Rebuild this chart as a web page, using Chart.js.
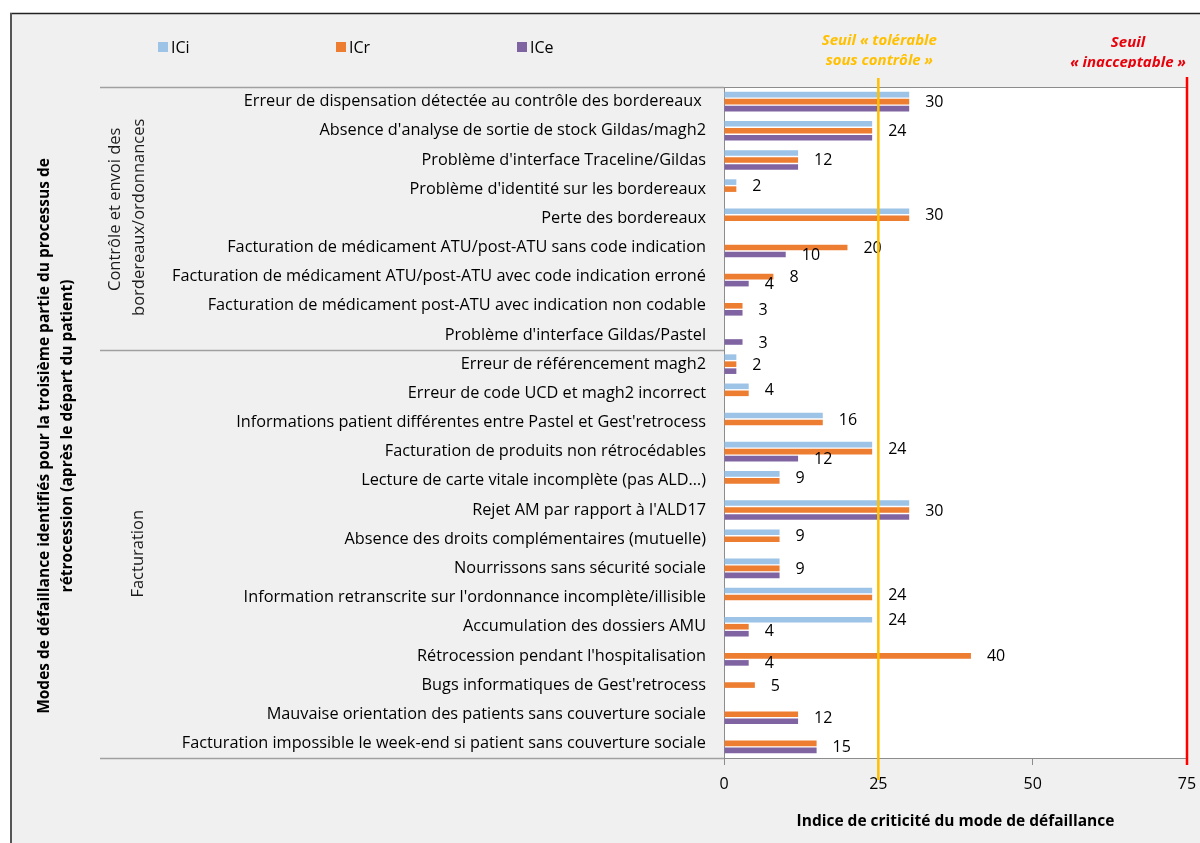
<!DOCTYPE html>
<html>
<head>
<meta charset="utf-8">
<script src="https://cdn.jsdelivr.net/npm/chart.js@4.4.1/dist/chart.umd.min.js"></script>
<style>
  html, body { margin: 0; padding: 0; background: #fff; }
  #wrap { width: 1200px; height: 843px; }
</style>
</head>
<body>
<div id="wrap"><canvas id="chart" width="1200" height="843"></canvas></div>
<script>
// Failure modes (top to bottom)
const categories = [
    "Erreur de dispensation détectée au contrôle des bordereaux ",
    "Absence d'analyse de sortie de stock Gildas/magh2",
    "Problème d'interface Traceline/Gildas",
    "Problème d'identité sur les bordereaux",
    "Perte des bordereaux",
    "Facturation de médicament ATU/post-ATU sans code indication",
    "Facturation de médicament ATU/post-ATU avec code indication erroné",
    "Facturation de médicament post-ATU avec indication non codable",
    "Problème d'interface Gildas/Pastel",
    "Erreur de référencement magh2",
    "Erreur de code UCD et magh2 incorrect",
    "Informations patient différentes entre Pastel et Gest'retrocess",
    "Facturation de produits non rétrocédables",
    "Lecture de carte vitale incomplète (pas ALD…)",
    "Rejet AM par rapport à l'ALD17",
    "Absence des droits complémentaires (mutuelle)",
    "Nourrissons sans sécurité sociale",
    "Information retranscrite sur l'ordonnance incomplète/illisible",
    "Accumulation des dossiers AMU",
    "Rétrocession pendant l'hospitalisation",
    "Bugs informatiques de Gest'retrocess",
    "Mauvaise orientation des patients sans couverture sociale",
    "Facturation impossible le week-end si patient sans couverture sociale"
];

// Category groups: label lines and number of rows in each
const groupLabels = [["Contrôle et envoi des", "bordereaux/ordonnances"], ["Facturation"]];
const groupSizes = [9, 14];

const iciValues = [30, 24, 12, 2, 30, null, null, null, null, 2, 4, 16, 24, 9, 30, 9, 9, 24, 24, null, null, null, null];
const icrValues = [30, 24, 12, 2, 30, 20, 8, 3, null, 2, 4, 16, 24, 9, 30, 9, 9, 24, 4, 40, 5, 12, 15];
const iceValues = [30, 24, 12, null, null, 10, 4, 3, 3, 2, null, null, 12, null, 30, null, 9, null, 4, 4, null, 12, 15];

const xTicks = [0, 25, 50, 75];
const thresholdValues = [25, 75];

const FONT = "'Open Sans', sans-serif";
const AXIS_GRAY = '#8c8c8c';

// Backgrounds, frame, legend and group separators
const framePlugin = {
    id: 'frame',
    beforeDraw(chart) {
        const { ctx, chartArea: a } = chart;
        ctx.save();
        ctx.fillStyle = '#ffffff';
        ctx.fillRect(0, 0, chart.width, chart.height);
        ctx.fillStyle = '#f0f0f0';
        ctx.fillRect(10, 13, chart.width - 10, chart.height - 13);
        ctx.strokeStyle = '#222';
        ctx.lineWidth = 1.5;
        ctx.beginPath();
        ctx.moveTo(10, 13.5); ctx.lineTo(chart.width, 13.5);
        ctx.stroke();
        ctx.strokeStyle = '#555';
        ctx.lineWidth = 2;
        ctx.beginPath();
        ctx.moveTo(11, 13); ctx.lineTo(11, chart.height);
        ctx.stroke();

        // white plot area
        ctx.fillStyle = '#ffffff';
        ctx.fillRect(a.left, a.top, a.right - a.left, a.bottom - a.top);
        ctx.strokeStyle = AXIS_GRAY;
        ctx.lineWidth = 1;
        ctx.strokeRect(a.left + 0.5, a.top + 0.5, a.right - a.left, a.bottom - a.top);

        // group separator lines on the category side
        const y = chart.scales.y;
        const groupX = 100;
        let idx = 0;
        const bounds = [a.top];
        groupSizes.forEach(n => {
            idx += n;
            if (idx < categories.length) {
                bounds.push((y.getPixelForValue(idx - 1) + y.getPixelForValue(idx)) / 2);
            }
        });
        bounds.push(a.bottom);
        ctx.strokeStyle = '#a0a0a0';
        ctx.lineWidth = 1.5;
        bounds.forEach(b => {
            ctx.beginPath();
            ctx.moveTo(groupX, Math.round(b) + 0.5);
            ctx.lineTo(a.left, Math.round(b) + 0.5);
            ctx.stroke();
        });

        // group labels (rotated)
        ctx.fillStyle = '#1a1a1a';
        ctx.font = '16.5px ' + FONT;
        ctx.textAlign = 'center';
        ctx.textBaseline = 'middle';
        groupLabels.forEach((lines, gi) => {
            const cy = (bounds[gi] + bounds[gi + 1]) / 2;
            const xs = lines.length === 2 ? [115, 139] : [138];
            const dy = lines.length === 2 ? [-9, -1] : [0];
            lines.forEach((line, li) => {
                ctx.save();
                ctx.translate(xs[li], cy + dy[li]);
                ctx.rotate(-Math.PI / 2);
                ctx.fillText(line, 0, 0);
                ctx.restore();
            });
        });

        // y axis title
        ctx.font = 'bold 15.5px ' + FONT;
        ctx.fillStyle = '#000';
        const titleLines = [
            "Modes de défaillance identifiés pour la troisième partie du processus de",
            "rétrocession (après le départ du patient)"
        ];
        [45, 68].forEach((tx, i) => {
            ctx.save();
            ctx.translate(tx, 436);
            ctx.rotate(-Math.PI / 2);
            ctx.fillText(titleLines[i], 0, 0);
            ctx.restore();
        });

        // legend
        ctx.font = '16px ' + FONT;
        ctx.textAlign = 'left';
        const legendX = [158, 336, 517];
        chart.data.datasets.forEach((ds, i) => {
            ctx.fillStyle = ds.backgroundColor;
            ctx.fillRect(legendX[i], 42, 10, 10);
            ctx.fillStyle = '#000';
            ctx.fillText(ds.label, legendX[i] + 13, 48);
        });
        ctx.restore();
    },
    afterDatasetsDraw(chart) {
        const { ctx } = chart;
        const x = chart.scales.x;
        ctx.save();

        // value labels: one per distinct value in each row
        ctx.font = '16px ' + FONT;
        ctx.fillStyle = '#000';
        ctx.textAlign = 'left';
        ctx.textBaseline = 'middle';
        categories.forEach((c, idx) => {
            const seen = {};
            chart.data.datasets.forEach((ds, di) => {
                const v = ds.data[idx];
                if (v === null || v === undefined) return;
                const el = chart.getDatasetMeta(di).data[idx];
                (seen[v] = seen[v] || []).push(el.y);
            });
            Object.keys(seen).forEach(v => {
                const ys = seen[v];
                const cy = ys.reduce((s, t) => s + t, 0) / ys.length;
                ctx.fillText(v, x.getPixelForValue(+v) + 16, cy + 1);
            });
        });

        // threshold lines
        const tx1 = x.getPixelForValue(thresholdValues[0]);
        const tx2 = x.getPixelForValue(thresholdValues[1]);
        ctx.lineWidth = 2.5;
        ctx.strokeStyle = '#ffc000';
        ctx.beginPath();
        ctx.moveTo(tx1, 78); ctx.lineTo(tx1, 780);
        ctx.stroke();
        ctx.strokeStyle = '#ff0000';
        ctx.beginPath();
        ctx.moveTo(tx2, 77); ctx.lineTo(tx2, 765);
        ctx.stroke();

        // threshold captions
        ctx.textAlign = 'center';
        ctx.font = 'italic bold 15px ' + FONT;
        ctx.fillStyle = '#ffc000';
        ctx.fillText('Seuil « tolérable', tx1 + 1, 41);
        ctx.fillText('sous contrôle »', tx1 + 1, 61);
        ctx.fillStyle = '#e8000b';
        ctx.save();
        ctx.beginPath();
        ctx.rect(1000, 20, 200, 48);
        ctx.clip();
        ctx.fillText('Seuil', 1128, 43);
        ctx.fillText('« inacceptable »', 1128, 63);
        ctx.restore();
        ctx.restore();
    }
};

const barStyle = { barPercentage: 0.8, categoryPercentage: 0.72 };

new Chart(document.getElementById('chart'), {
    type: 'bar',
    data: {
        labels: categories,
        datasets: [
            { label: 'ICi', data: iciValues, backgroundColor: '#9dc3e6', ...barStyle },
            { label: 'ICr', data: icrValues, backgroundColor: '#ed7d31', ...barStyle },
            { label: 'ICe', data: iceValues, backgroundColor: '#8064a2', ...barStyle }
        ]
    },
    options: {
        indexAxis: 'y',
        responsive: false,
        animation: false,
        devicePixelRatio: 1,
        layout: { padding: { left: 0, top: 87, right: 13, bottom: 0 } },
        plugins: {
            legend: { display: false },
            tooltip: { enabled: false }
        },
        scales: {
            y: {
                type: 'category',
                grid: { display: false, drawTicks: false },
                border: { display: true, color: AXIS_GRAY },
                ticks: {
                    autoSkip: false,
                    padding: 18,
                    color: '#000',
                    font: { family: FONT, size: 16.3 }
                },
                afterFit: s => { s.width = 724; }
            },
            x: {
                min: 0,
                max: 75,
                afterBuildTicks: s => { s.ticks = xTicks.map(v => ({ value: v })); },
                grid: { drawOnChartArea: false, drawTicks: true, tickLength: 7, color: AXIS_GRAY },
                border: { display: true, color: AXIS_GRAY },
                ticks: {
                    padding: 10,
                    color: '#000',
                    font: { family: FONT, size: 16 }
                },
                title: {
                    display: true,
                    text: 'Indice de criticité du mode de défaillance',
                    color: '#000',
                    font: { family: FONT, size: 15.5, weight: 'bold' },
                    padding: { top: 0, bottom: 12 }
                },
                afterFit: s => {
                    s.height = 843 - 758;
                    s.paddingLeft = 0;
                    s.paddingRight = 0;
                }
            }
        }
    },
    plugins: [framePlugin]
});
</script>
</body>
</html>
